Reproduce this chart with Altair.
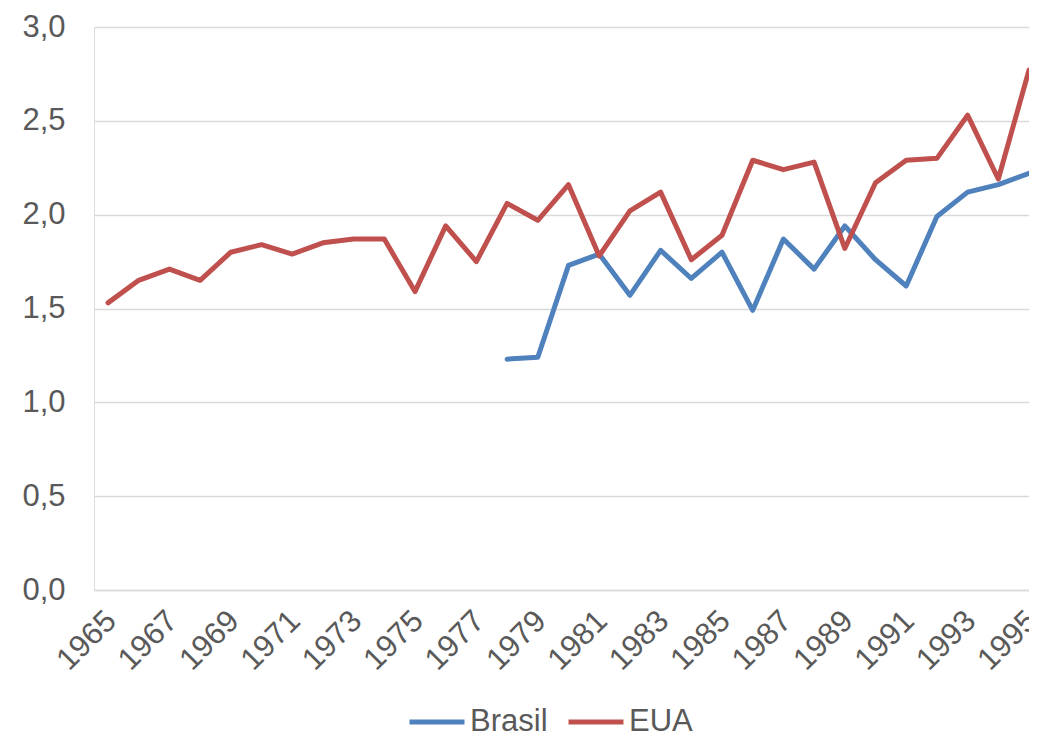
import altair as alt
import pandas as pd

years_eua = list(range(1965, 1996))
eua = [1.53, 1.65, 1.71, 1.65, 1.80, 1.84, 1.79, 1.85, 1.87, 1.87,
       1.59, 1.94, 1.75, 2.06, 1.97, 2.16, 1.78, 2.02, 2.12, 1.76,
       1.89, 2.29, 2.24, 2.28, 1.82, 2.17, 2.29, 2.30, 2.53, 2.19, 2.77]
years_br = list(range(1978, 1996))
brasil = [1.23, 1.24, 1.73, 1.79, 1.57, 1.81, 1.66, 1.80, 1.49, 1.87,
          1.71, 1.94, 1.76, 1.62, 1.99, 2.12, 2.16, 2.22]
series = ["Brasil", "EUA"]
colors = ["#4f81bd", "#c0504d"]
tick_years = list(range(1965, 1996, 2))

df = pd.concat([
    pd.DataFrame({"ano": years_br, "valor": brasil, "serie": "Brasil"}),
    pd.DataFrame({"ano": years_eua, "valor": eua, "serie": "EUA"}),
])

FONT = "Liberation Sans"
FS = 31
GRAY = "#595959"

chart = alt.Chart(df).mark_line(strokeWidth=5, strokeCap="round", strokeJoin="round", clip=False).encode(
    x=alt.X("ano:Q",
            scale=alt.Scale(domain=[1964.544, 1995.0], nice=False, zero=False),
            axis=alt.Axis(values=tick_years, format="d", labelAngle=-45, title=None,
                          grid=False, ticks=False, domain=True, domainColor="#d9d9d9",
                          domainWidth=1.5, labelFontSize=FS, labelColor=GRAY,
                          labelFont=FONT, labelPadding=26, labelOffset=3, labelOverlap=False,
                          labelAlign="right", labelBaseline="middle", labelFlush=False,
                          labelBound=False)),
    y=alt.Y("valor:Q",
            scale=alt.Scale(domain=[0, 3], nice=False),
            axis=alt.Axis(values=[0, 0.5, 1, 1.5, 2, 2.5, 3], title=None,
                          labelExpr="replace(format(datum.value, '.1f'), '.', ',')",
                          grid=True, gridColor="#d9d9d9", gridWidth=1.5,
                          ticks=False, domain=False, labelFontSize=FS,
                          labelColor=GRAY, labelFont=FONT, labelPadding=29)),
    color=alt.Color("serie:N",
                    scale=alt.Scale(domain=series, range=colors),
                    legend=alt.Legend(title=None, orient="none", direction="horizontal",
                                      legendX=313, legendY=665,
                                      symbolType="stroke", symbolStrokeWidth=5,
                                      symbolSize=3025, labelFontSize=FS,
                                      labelColor=GRAY, labelFont=FONT,
                                      columnPadding=10, labelOffset=3)),
).properties(
    width=935, height=563,
    autosize=alt.AutoSizeParams(type="none"),
    padding={"left": 86, "top": 19, "right": 0, "bottom": 143},
).configure_view(stroke=None).configure(background="white")

chart.save("out.html", embed_options={"renderer": "svg", "actions": False})
